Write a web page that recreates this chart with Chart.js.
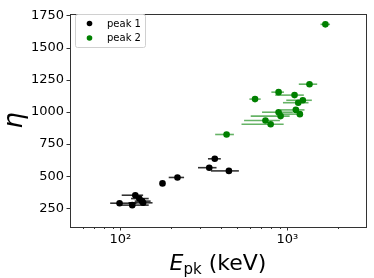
<!DOCTYPE html>
<html>
<head>
<meta charset="utf-8">
<script src="https://cdn.jsdelivr.net/npm/chart.js@4.4.1/dist/chart.umd.min.js"></script>
<style>
  html, body { margin: 0; padding: 0; background: #fff; }
  #wrap { width: 374px; height: 278px; }
</style>
</head>
<body>
<div id="wrap"><canvas id="chart"></canvas></div>
<script>
/* global Chart */

// peak 1 (black)
const peak1E = [368, 341, 447, 220, 179, 123, 130, 135, 137, 118, 99];
const peak1Eta = [635, 566, 541, 490, 444, 352, 326, 306, 293, 275, 290];
const peak1Lo = [335, 292, 349, 195, 173, 102, 116, 122, 112, 100, 87];
const peak1Hi = [400, 377, 513, 241, 185, 137, 148, 152, 156, 148, 125];

// peak 2 (green)
const peak2E = [1691, 1358, 887, 1105, 641, 1239, 1163, 1125, 887, 1189, 912, 740, 795, 433];
const peak2Eta = [1680, 1215, 1153, 1130, 1099, 1090, 1071, 1015, 997, 982, 967, 933, 903, 824];
const peak2Lo = [1581, 1172, 803, 847, 593, 986, 942, 912, 706, 900, 604, 551, 532, 370];
const peak2Hi = [1803, 1510, 955, 1256, 693, 1403, 1340, 1268, 1079, 1205, 1033, 903, 951, 479];

const seriesLabels = ["peak 1", "peak 2"];
const seriesColors = ["#000000", "#008000"];
const errColors = ["rgba(0,0,0,0.8)", "rgba(0,128,0,0.6)"];

const xTickValues = [100, 1000];
const xTickLabels = ["10\u00b2", "10\u00b3"];
const xMinorTicks = [60, 70, 80, 90, 200, 300, 400, 500, 600, 700, 800, 900, 2000];
const yTickValues = [250, 500, 750, 1000, 1250, 1500, 1750];

const FONT = "'DejaVu Sans', sans-serif";

function toPoints(xs, ys, lo, hi) {
  return xs.map((x, i) => ({ x: x, y: ys[i], lo: lo[i], hi: hi[i] }));
}

const errorBars = {
  id: "errorBars",
  beforeDatasetsDraw(chart) {
    const ctx = chart.ctx;
    const xs = chart.scales.x;
    const ys = chart.scales.y;
    ctx.save();
    ctx.lineWidth = 1.6;
    chart.data.datasets.forEach((ds, di) => {
      ctx.strokeStyle = errColors[di];
      for (const p of ds.data) {
        const y = ys.getPixelForValue(p.y);
        ctx.beginPath();
        ctx.moveTo(xs.getPixelForValue(p.lo), y);
        ctx.lineTo(xs.getPixelForValue(p.hi), y);
        ctx.stroke();
      }
    });
    ctx.restore();
  },
};

const frame = {
  id: "frame",
  afterDraw(chart) {
    const ctx = chart.ctx;
    const a = chart.chartArea;
    const xs = chart.scales.x;
    const ys = chart.scales.y;
    ctx.save();
    ctx.strokeStyle = "#333";
    ctx.lineWidth = 1;
    ctx.strokeRect(Math.round(a.left) + 0.5, Math.round(a.top) + 0.5, Math.round(a.right - a.left), Math.round(a.bottom - a.top));

    // ticks
    ctx.beginPath();
    for (const v of xTickValues) {
      const x = Math.round(xs.getPixelForValue(v)) + 0.5;
      ctx.moveTo(x, a.bottom);
      ctx.lineTo(x, a.bottom + 3.5);
    }
    for (const v of xMinorTicks) {
      const x = Math.round(xs.getPixelForValue(v)) + 0.5;
      ctx.moveTo(x, a.bottom);
      ctx.lineTo(x, a.bottom + 2);
    }
    for (const v of yTickValues) {
      const y = Math.round(ys.getPixelForValue(v)) + 0.5;
      ctx.moveTo(a.left, y);
      ctx.lineTo(a.left - 3.5, y);
    }
    ctx.stroke();

    // legend
    const lx = 75, ly = 14, lw = 70, lh = 33;
    ctx.fillStyle = "rgba(255,255,255,0.8)";
    ctx.strokeStyle = "#d0d0d0";
    ctx.beginPath();
    ctx.roundRect(lx + 0.5, ly + 0.5, lw, lh, 2);
    ctx.fill();
    ctx.stroke();
    ctx.font = "10px " + FONT;
    ctx.textBaseline = "middle";
    ctx.textAlign = "left";
    seriesLabels.forEach((lab, i) => {
      const cy = ly + 9.5 + i * 14.5;
      ctx.fillStyle = seriesColors[i];
      ctx.beginPath();
      ctx.arc(lx + 14.5, cy, 2.8, 0, Math.PI * 2);
      ctx.fill();
      ctx.fillStyle = "#000";
      ctx.fillText(lab, lx + 32, cy + 0.5);
    });

    // axis titles
    ctx.fillStyle = "#000";
    ctx.textBaseline = "alphabetic";
    const baseY = 270;
    ctx.font = "italic 22px " + FONT;
    const wE = ctx.measureText("E").width;
    ctx.font = "15px " + FONT;
    const wPk = ctx.measureText("pk").width;
    ctx.font = "22px " + FONT;
    const wRest = ctx.measureText(" (keV)").width;
    let tx = (a.left + a.right) / 2 - (wE + wPk + wRest) / 2;
    ctx.font = "italic 22px " + FONT;
    ctx.fillText("E", tx, baseY);
    tx += wE;
    ctx.font = "15px " + FONT;
    ctx.fillText("pk", tx, baseY + 4);
    tx += wPk;
    ctx.font = "22px " + FONT;
    ctx.fillText(" (keV)", tx, baseY);

    ctx.save();
    ctx.translate(22, (a.top + a.bottom) / 2);
    ctx.rotate(-Math.PI / 2);
    ctx.textAlign = "center";
    ctx.font = "italic 26px " + FONT;
    ctx.fillText("\u03b7", 0, 0);
    ctx.restore();
    ctx.restore();
  },
};

new Chart(document.getElementById("chart"), {
  type: "scatter",
  data: {
    datasets: [
      {
        label: seriesLabels[0],
        data: toPoints(peak1E, peak1Eta, peak1Lo, peak1Hi),
        backgroundColor: seriesColors[0],
        borderColor: seriesColors[0],
        pointRadius: 3.3,
        pointBorderWidth: 0,
      },
      {
        label: seriesLabels[1],
        data: toPoints(peak2E, peak2Eta, peak2Lo, peak2Hi),
        backgroundColor: seriesColors[1],
        borderColor: seriesColors[1],
        pointRadius: 3.3,
        pointBorderWidth: 0,
      },
    ],
  },
  options: {
    responsive: true,
    maintainAspectRatio: false,
    animation: false,
    layout: { padding: { top: 10, right: 8, left: 0, bottom: 0 } },
    plugins: { legend: { display: false }, tooltip: { enabled: false } },
    scales: {
      x: {
        type: "logarithmic",
        min: 50,
        max: 2960,
        grid: { display: false, drawTicks: false },
        border: { display: false },
        afterBuildTicks: (s) => { s.ticks = xTickValues.map((v) => ({ value: v })); },
        afterFit: (s) => { s.height = 51; },
        ticks: {
          padding: 5,
          color: "#000",
          font: { family: FONT, size: 13 },
          autoSkip: false,
          maxRotation: 0,
          callback: (v) => xTickLabels[xTickValues.indexOf(v)],
        },
      },
      y: {
        type: "linear",
        min: 105,
        max: 1762,
        grid: { display: false, drawTicks: false },
        border: { display: false },
        afterBuildTicks: (s) => { s.ticks = yTickValues.map((v) => ({ value: v })); },
        afterFit: (s) => { s.width = 70; },
        ticks: {
          padding: 6,
          color: "#000",
          font: { family: FONT, size: 13 },
          autoSkip: false,
          callback: (v) => String(v),
        },
      },
    },
  },
  plugins: [errorBars, frame],
});
</script>
</body>
</html>
